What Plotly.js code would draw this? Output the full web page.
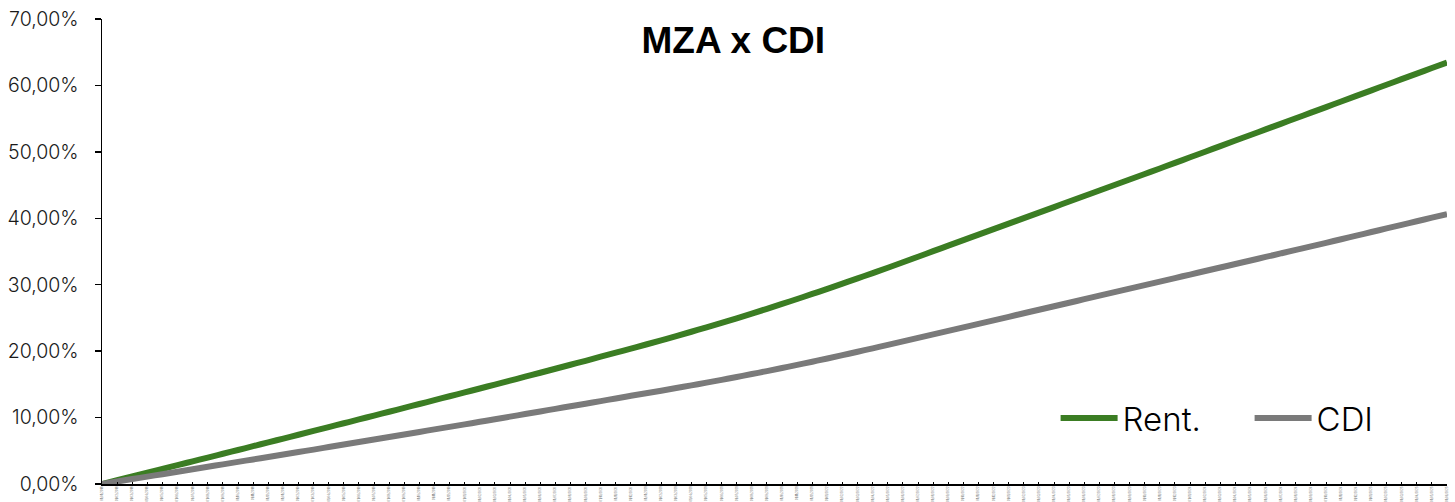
<!DOCTYPE html>
<html>
<head>
<meta charset="utf-8">
<script src="https://cdn.plot.ly/plotly-3.0.1.min.js"></script>
<style>html,body{margin:0;padding:0;background:#fff;}#chart{width:1455px;height:502px;}</style>
</head>
<body>
<div id="chart"></div>
<script>
const months = [
"01/01/2018","01/02/2018","01/03/2018","01/04/2018","01/05/2018","01/06/2018","01/07/2018","01/08/2018","01/09/2018","01/10/2018","01/11/2018","01/12/2018",
"01/01/2019","01/02/2019","01/03/2019","01/04/2019","01/05/2019","01/06/2019","01/07/2019","01/08/2019","01/09/2019","01/10/2019","01/11/2019","01/12/2019",
"01/01/2020","01/02/2020","01/03/2020","01/04/2020","01/05/2020","01/06/2020","01/07/2020","01/08/2020","01/09/2020","01/10/2020","01/11/2020","01/12/2020",
"01/01/2021","01/02/2021","01/03/2021","01/04/2021","01/05/2021","01/06/2021","01/07/2021","01/08/2021","01/09/2021","01/10/2021","01/11/2021","01/12/2021",
"01/01/2022","01/02/2022","01/03/2022","01/04/2022","01/05/2022","01/06/2022","01/07/2022","01/08/2022","01/09/2022","01/10/2022","01/11/2022","01/12/2022",
"01/01/2023","01/02/2023","01/03/2023","01/04/2023","01/05/2023","01/06/2023","01/07/2023","01/08/2023","01/09/2023","01/10/2023","01/11/2023","01/12/2023",
"01/01/2024","01/02/2024","01/03/2024","01/04/2024","01/05/2024","01/06/2024","01/07/2024","01/08/2024","01/09/2024","01/10/2024","01/11/2024","01/12/2024",
"01/01/2025","01/02/2025","01/03/2025","01/04/2025","01/05/2025","01/06/2025"
];

const rent = [
0,0.56,1.13,1.70,2.26,2.84,3.41,3.97,4.55,5.12,5.69,6.27,6.84,7.41,7.99,8.57,9.14,9.72,10.30,10.88,
11.46,12.04,12.62,13.21,13.79,14.38,14.97,15.56,16.15,16.75,17.35,17.95,18.55,19.16,19.77,20.38,
21.00,21.63,22.27,22.92,23.58,24.26,24.95,25.65,26.37,27.10,27.85,28.61,29.38,30.16,30.95,31.75,
32.56,33.38,34.21,35.05,35.88,36.71,37.54,38.37,39.20,40.03,40.86,41.69,42.52,43.35,44.18,45.01,
45.84,46.67,47.50,48.34,49.18,50.02,50.86,51.70,52.54,53.38,54.22,55.06,55.90,56.74,57.58,58.42,
59.26,60.10,60.94,61.78,62.62,63.46
];

const cdi = [
0,0.37,0.74,1.11,1.48,1.85,2.22,2.59,2.96,3.33,3.70,4.07,4.44,4.81,5.18,5.56,5.94,6.32,6.70,7.08,
7.46,7.84,8.22,8.60,8.98,9.36,9.75,10.14,10.53,10.92,11.31,11.70,12.09,12.48,12.88,13.28,
13.66,14.05,14.45,14.85,15.26,15.68,16.11,16.55,17.00,17.46,17.93,18.41,18.90,19.40,19.91,20.42,
20.94,21.46,21.99,22.52,23.05,23.58,24.11,24.64,25.17,25.70,26.23,26.76,27.29,27.82,28.35,28.88,
29.41,29.94,30.47,31.00,31.53,32.06,32.59,33.12,33.65,34.18,34.71,35.24,35.77,36.31,36.85,37.39,
37.93,38.47,39.01,39.55,40.09,40.63
];

const yTicks = [0,10,20,30,40,50,60,70];
const yTickText = ["0,00%","10,00%","20,00%","30,00%","40,00%","50,00%","60,00%","70,00%"];

const traces = [
  {x: months, y: rent, name: "Rent.", type: "scatter", mode: "lines",
   line: {color: "#3b7d23", width: 6, shape: "spline", smoothing: 1}},
  {x: months, y: cdi, name: "CDI", type: "scatter", mode: "lines",
   line: {color: "#7a7a7a", width: 6, shape: "spline", smoothing: 1}}
];

const layout = {
  width: 1455, height: 502,
  margin: {l: 102, r: 8, t: 19, b: 18, autoexpand: false},
  paper_bgcolor: "#ffffff", plot_bgcolor: "#ffffff",
  separators: ",.",
  font: {family: "Inter, 'Liberation Sans', sans-serif", color: "#222"},
  title: {text: "<b>MZA x CDI</b>", font: {family: "'Liberation Sans', Arial, sans-serif", size: 37, color: "#000"},
          x: 0.504, xref: "container", xanchor: "center", y: 0.92, yref: "container", yanchor: "middle"},
  xaxis: {type: "category", range: [0, 89], showgrid: false, zeroline: false,
          showline: true, linecolor: "#000", linewidth: 1.5,
          ticks: "inside", ticklen: 2, tickcolor: "#000", tickwidth: 1,
          tickangle: -90, tickfont: {size: 2.8, color: "#666"}, automargin: false},
  yaxis: {range: [0, 70], tickvals: yTicks, ticktext: yTickText,
          showgrid: false, zeroline: false, showline: true, linecolor: "#000", linewidth: 1.5,
          ticks: "outside", ticklen: 6, tickcolor: "#000", tickwidth: 1.5,
          ticklabelstandoff: 12,
          tickfont: {size: 19.5, color: "#1a1a1a", weight: 300}, automargin: false},
  showlegend: true,
  legend: {orientation: "h", x: 0.709, xanchor: "left", y: 0.142, yanchor: "middle",
           font: {size: 33, color: "#000", weight: 300}, bgcolor: "rgba(0,0,0,0)",
           itemwidth: 57, entrywidth: 122, entrywidthmode: "pixels", tracegroupgap: 0}
};

Plotly.newPlot("chart", traces, layout, {displayModeBar: false, staticPlot: true});
</script>
</body>
</html>
